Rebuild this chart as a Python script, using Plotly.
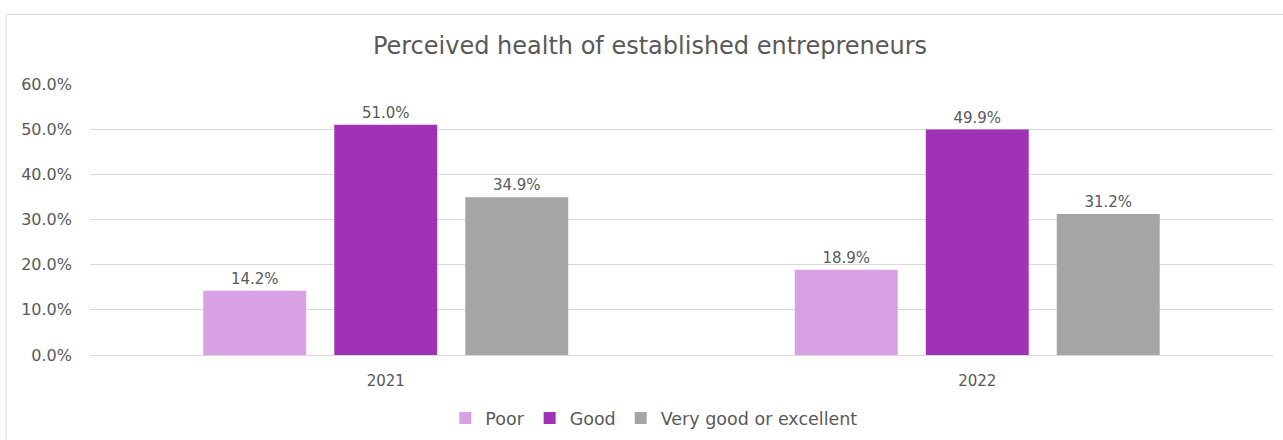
import plotly.graph_objects as go

# Survey years and perceived-health shares (%)
years = ["2021", "2022"]
poor = [14.2, 18.9]
good = [51.0, 49.9]
very_good = [34.9, 31.2]
y_ticks = [0, 10, 20, 30, 40, 50, 60]
y_tick_labels = ["0.0%", "10.0%", "20.0%", "30.0%", "40.0%", "50.0%", "60.0%"]

FONT = "DejaVu Sans"
TEXT = "#595959"

series = [
    ("Poor", poor, "#D9A0E3"),
    ("Good", good, "#A033B5"),
    ("Very good or excellent", very_good, "#A5A5A5"),
]

fig = go.Figure()
for name, vals, color in series:
    fig.add_trace(go.Bar(
        name=name, x=years, y=vals,
        marker=dict(color=color, line=dict(width=0)),
        text=[f"{v:.1f}%" for v in vals],
        textposition="outside",
        textfont=dict(family=FONT, size=15, color=TEXT),
        cliponaxis=False,
    ))

W, H = 1283, 440
ml, mr, mt, mb = 90, 10, 84, 85
pw, ph = W - ml - mr, H - mt - mb

fig.update_layout(
    width=W, height=H,
    margin=dict(l=ml, r=mr, t=mt, b=mb, autoexpand=False),
    paper_bgcolor="white", plot_bgcolor="white",
    barmode="group", bargap=0.3356, bargroupgap=0.214,
    title=dict(text="Perceived health of established entrepreneurs",
               x=650 / W, xanchor="center", y=1 - 46 / H, yanchor="middle",
               font=dict(family=FONT, size=24, color=TEXT)),
    font=dict(family=FONT, color=TEXT),
    showlegend=True,
    legend=dict(orientation="h", x=612 / W, xanchor="center",
                yref="container", y=1 - 418 / H, yanchor="middle",
                font=dict(family=FONT, size=17.5, color=TEXT),
                itemwidth=30, traceorder="normal"),
    xaxis=dict(showline=True, linecolor="#D9D9D9", linewidth=1,
               tickfont=dict(family=FONT, size=15, color=TEXT),
               ticks="", ticklabelstandoff=12),
    yaxis=dict(range=[0, 60], tickvals=y_ticks, ticktext=y_tick_labels,
               showgrid=True, gridcolor="#D9D9D9", gridwidth=1,
               zeroline=False, showline=False,
               tickfont=dict(family=FONT, size=16, color=TEXT),
               ticks="", ticklabelstandoff=17),
)

# Outer chart frame
fig.add_shape(type="rect", xref="paper", yref="paper",
              x0=(6 - ml) / pw, x1=(W + 20 - ml) / pw,
              y0=-(H + 20 - (H - mb)) / ph, y1=1 + (mt - 14.5) / ph,
              line=dict(color="#D9D9D9", width=1), fillcolor="rgba(0,0,0,0)",
              layer="below")

fig.write_html("out.html")
